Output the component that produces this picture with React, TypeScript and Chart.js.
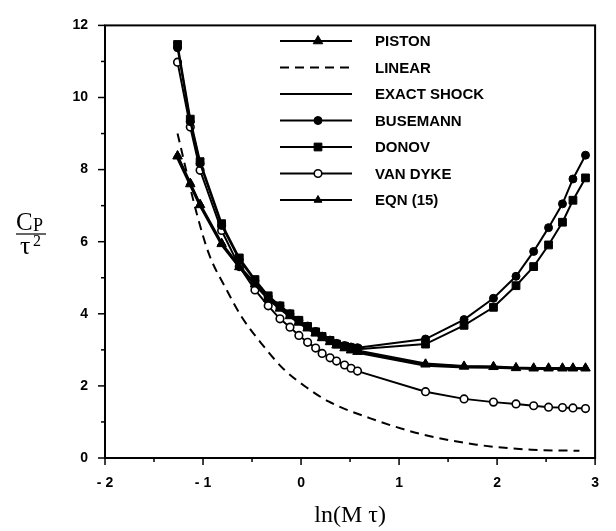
import { useEffect, useRef } from 'react';
import { Chart, registerables } from 'chart.js';

Chart.register(...registerables);

// ---------- data ----------
const X_VALUES = [-1.26, -1.13, -1.03, -0.81, -0.63, -0.47, -0.335, -0.215, -0.113, -0.022, 0.067, 0.149, 0.215, 0.296, 0.362, 0.444, 0.51, 0.576, 1.27, 1.663, 1.963, 2.193, 2.373, 2.525, 2.667, 2.774, 2.902];

const PISTON = [8.37, 7.6, 7.02, 5.94, 5.3, 4.82, 4.42, 4.15, 3.94, 3.76, 3.6, 3.46, 3.33, 3.22, 3.13, 3.05, 2.99, 2.95, 2.6, 2.54, 2.53, 2.5, 2.49, 2.49, 2.49, 2.49, 2.49];
const EXACT_SHOCK = [8.3, 7.55, 6.98, 5.9, 5.28, 4.8, 4.4, 4.13, 3.92, 3.74, 3.58, 3.44, 3.31, 3.2, 3.11, 3.03, 2.97, 2.92, 2.56, 2.51, 2.5, 2.48, 2.47, 2.47, 2.47, 2.47, 2.47];
const BUSEMANN = [11.38, 9.33, 8.17, 6.45, 5.5, 4.92, 4.48, 4.22, 4.0, 3.82, 3.66, 3.51, 3.38, 3.27, 3.18, 3.12, 3.08, 3.06, 3.3, 3.84, 4.43, 5.04, 5.73, 6.39, 7.05, 7.74, 8.4];
const DONOV = [11.47, 9.4, 8.22, 6.5, 5.55, 4.95, 4.5, 4.22, 4.0, 3.82, 3.65, 3.5, 3.37, 3.26, 3.16, 3.1, 3.05, 3.02, 3.16, 3.68, 4.18, 4.78, 5.31, 5.91, 6.54, 7.15, 7.77];
const VAN_DYKE = [10.98, 9.18, 7.98, 6.31, 5.31, 4.66, 4.22, 3.86, 3.63, 3.4, 3.21, 3.05, 2.9, 2.78, 2.69, 2.58, 2.49, 2.41, 1.84, 1.64, 1.55, 1.5, 1.45, 1.41, 1.4, 1.39, 1.37];
const EQN15 = [8.4, 7.64, 7.05, 5.97, 5.33, 4.85, 4.45, 4.18, 3.97, 3.79, 3.63, 3.49, 3.36, 3.25, 3.16, 3.08, 3.02, 2.98, 2.62, 2.55, 2.54, 2.51, 2.5, 2.5, 2.5, 2.5, 2.5];

const LINEAR_X = [-1.26, -1.065, -0.934, -0.77, -0.605, -0.408, -0.179, 0.05, 0.28, 0.707, 1.23, 1.79, 2.35, 2.84];
const LINEAR = [9.0, 6.79, 5.62, 4.72, 3.91, 3.19, 2.47, 1.97, 1.57, 1.1, 0.66, 0.37, 0.23, 0.2];

const SERIES_LABELS = ['PISTON', 'LINEAR', 'EXACT SHOCK', 'BUSEMANN', 'DONOV', 'VAN DYKE', 'EQN (15)'];

const X_MIN = -2;
const X_MAX = 3;
const Y_MIN = 0;
const Y_MAX = 12;
const X_TITLE = 'ln(M τ)';

function pts(xs: number[], ys: number[]) {
  return xs.map((x, i) => ({ x, y: ys[i] }));
}

function drawMarker(ctx: CanvasRenderingContext2D, style: string, r: number, x: number, y: number, fill: string) {
  ctx.beginPath();
  if (style === 'triangle') {
    ctx.moveTo(x, y - r);
    ctx.lineTo(x + r * 0.866, y + r * 0.5);
    ctx.lineTo(x - r * 0.866, y + r * 0.5);
    ctx.closePath();
  } else if (style === 'rect') {
    const s = r * Math.SQRT1_2;
    ctx.rect(x - s, y - s, 2 * s, 2 * s);
  } else {
    ctx.arc(x, y, r, 0, Math.PI * 2);
  }
  ctx.fillStyle = fill;
  ctx.fill();
  ctx.stroke();
}

const framePlugin = {
  id: 'frameTicks',
  afterDraw(chart: any) {
    const { ctx, chartArea, scales } = chart;
    const { left, right, top, bottom } = chartArea;
    const xs = scales.x;
    const ys = scales.y;
    ctx.save();
    ctx.strokeStyle = '#000';
    ctx.lineWidth = 2;
    ctx.strokeRect(left, top, right - left, bottom - top);
    ctx.lineWidth = 1.5;
    for (let v = X_MIN; v <= X_MAX + 1e-9; v += 0.5) {
      const px = xs.getPixelForValue(v);
      const len = Math.abs(v - Math.round(v)) < 1e-6 ? 7 : 4;
      ctx.beginPath();
      ctx.moveTo(px, bottom);
      ctx.lineTo(px, bottom + len);
      ctx.stroke();
    }
    for (let v = Y_MIN; v <= Y_MAX; v += 1) {
      const py = ys.getPixelForValue(v);
      const len = v % 2 === 0 ? 7 : 4;
      ctx.beginPath();
      ctx.moveTo(left, py);
      ctx.lineTo(left - len, py);
      ctx.stroke();
    }

    // y-axis title as a fraction: Cp / tau^2
    ctx.fillStyle = '#000';
    ctx.textBaseline = 'alphabetic';
    ctx.textAlign = 'left';
    ctx.font = '25px "Liberation Serif"';
    ctx.fillText('C', 16, 230);
    ctx.font = '18px "Liberation Serif"';
    ctx.fillText('P', 33, 231);
    ctx.lineWidth = 1.2;
    ctx.beginPath();
    ctx.moveTo(16, 234);
    ctx.lineTo(46, 234);
    ctx.stroke();
    ctx.font = '26px "Liberation Serif"';
    ctx.fillText('τ', 20, 254);
    ctx.font = '16px "Liberation Serif"';
    ctx.fillText('2', 33, 246);

    // legend
    const lx0 = 280;
    const lx1 = 352;
    const lm = 318;
    const ltx = 375;
    const ly0 = 41;
    const lstep = 26.5;
    chart.data.datasets.forEach((ds: any, i: number) => {
      const y = ly0 + i * lstep;
      ctx.strokeStyle = '#000';
      ctx.lineWidth = ds.borderWidth;
      ctx.setLineDash(ds.borderDash || []);
      ctx.beginPath();
      ctx.moveTo(lx0, y);
      ctx.lineTo(lx1, y);
      ctx.stroke();
      ctx.setLineDash([]);
      if (ds.pointRadius > 0) {
        ctx.lineWidth = ds.pointBorderWidth || 1;
        drawMarker(ctx, ds.pointStyle, ds.pointRadius, lm, y, ds.pointBackgroundColor);
      }
      ctx.fillStyle = '#000';
      ctx.font = 'bold 15px "Liberation Sans"';
      ctx.textBaseline = 'middle';
      ctx.fillText(ds.label, ltx, y + 1);
    });
    ctx.restore();
  },
};

export default function App() {
  const ref = useRef<HTMLCanvasElement | null>(null);

  useEffect(() => {
    if (!ref.current) return;
    const line = (label: string, data: any, extra: any) => ({
      label,
      data,
      borderColor: '#000',
      backgroundColor: '#000',
      borderWidth: 2,
      pointRadius: 0,
      pointBorderColor: '#000',
      pointBackgroundColor: '#000',
      pointBorderWidth: 1,
      tension: 0,
      fill: false,
      ...extra,
    });

    const chart = new Chart(ref.current, {
      type: 'line',
      data: {
        datasets: [
          line(SERIES_LABELS[0], pts(X_VALUES, PISTON), { pointStyle: 'triangle', pointRadius: 5.5 }),
          line(SERIES_LABELS[1], pts(LINEAR_X, LINEAR), { borderDash: [9, 6], cubicInterpolationMode: 'monotone', borderWidth: 2 }),
          line(SERIES_LABELS[2], pts(X_VALUES, EXACT_SHOCK), {}),
          line(SERIES_LABELS[3], pts(X_VALUES, BUSEMANN), { pointStyle: 'circle', pointRadius: 4 }),
          line(SERIES_LABELS[4], pts(X_VALUES, DONOV), { pointStyle: 'rect', pointRadius: 5.5 }),
          line(SERIES_LABELS[5], pts(X_VALUES, VAN_DYKE), { pointStyle: 'circle', pointRadius: 3.8, pointBackgroundColor: '#fff', pointBorderWidth: 1.6 }),
          line(SERIES_LABELS[6], pts(X_VALUES, EQN15), { pointStyle: 'triangle', pointRadius: 4.5 }),
        ],
      },
      options: {
        animation: false,
        responsive: false,
        layout: { padding: { top: 14, right: 3, left: 0, bottom: 0 } },
        plugins: {
          legend: { display: false },
          tooltip: { enabled: false },
        },
        scales: {
          x: {
            type: 'linear',
            min: X_MIN,
            max: X_MAX,
            grid: { display: false, drawTicks: false },
            border: { display: false },
            ticks: {
              stepSize: 1,
              padding: 17,
              color: '#000',
              font: { family: '"Liberation Sans"', size: 14, weight: 'bold' },
              callback: (v: any) => (v < 0 ? '- ' + Math.abs(v) : String(v)),
            },
            title: {
              display: true,
              text: X_TITLE,
              color: '#000',
              font: { family: '"Liberation Serif"', size: 24 },
              padding: { top: 0, bottom: 1 },
            },
            afterFit: (s: any) => {
              s.height = 73;
            },
          },
          y: {
            type: 'linear',
            min: Y_MIN,
            max: Y_MAX,
            grid: { display: false, drawTicks: false },
            border: { display: false },
            ticks: {
              stepSize: 2,
              padding: 17,
              color: '#000',
              font: { family: '"Liberation Sans"', size: 14, weight: 'bold' },
            },
            afterFit: (s: any) => {
              s.width = 105;
            },
          },
        },
      },
      plugins: [framePlugin],
    });
    return () => chart.destroy();
  }, []);

  return (
    <div style={{ position: 'fixed', left: 0, top: 0, width: 616, height: 531, background: '#fff' }}>
      <canvas ref={ref} width={616} height={531} style={{ display: 'block' }} />
    </div>
  );
}
